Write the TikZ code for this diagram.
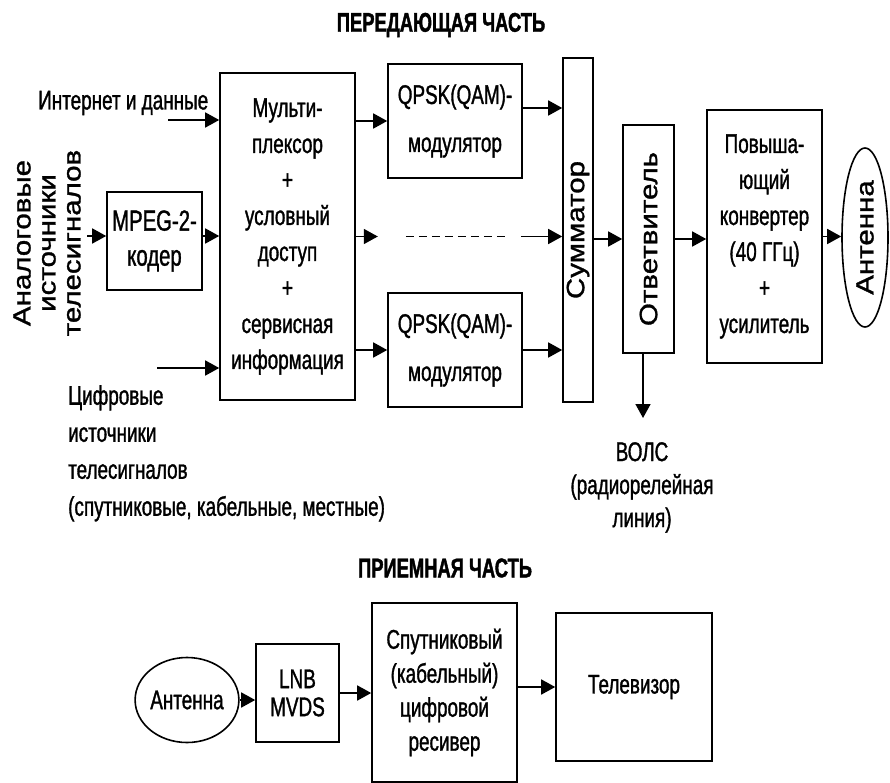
\documentclass[tikz,border=0pt]{standalone}
\usepackage{fontspec}
\setmainfont{Liberation Sans}[FakeStretch=0.70,FakeBold=1.2]
\newfontfamily\rotfont{Liberation Sans}[FakeStretch=1.18,FakeBold=1.2]
\newfontfamily\headfont{Liberation Sans}[FakeStretch=0.68,FakeBold=1.5]
\usepackage{tikz}
\usetikzlibrary{arrows.meta}
\usetikzlibrary{shapes.geometric}
\tikzstyle{every node}=[inner sep=0pt,font=\fontsize{27}{36}\selectfont]
\tikzstyle{block}=[draw=black,line width=1.6pt,align=center]
\tikzstyle{oval}=[draw=black,line width=1.6pt,ellipse]
\tikzstyle{signal}=[line width=1.6pt,-{Triangle[length=14pt,width=15pt]}]
\tikzstyle{head}=[font=\headfont\bfseries\fontsize{27}{30}\selectfont]
\tikzstyle{vert}=[rotate=90,align=center,font=\rotfont\fontsize{25}{25}\selectfont]
\newcommand{\vtext}[1]{\rotatebox{90}{\rotfont\fontsize{25}{25}\selectfont #1}}

\begin{document}
\begin{tikzpicture}[x=1pt,y=-1pt]
  \useasboundingbox (0,0) rectangle (890,783);
  \node[head] (sendtitle) at (441,25) {ПЕРЕДАЮЩАЯ ЧАСТЬ};
  \node[anchor=west] (inet) at (38,103) {Интернет и данные};
  \node[vert] (analog) at (47,243) {Аналоговые\\источники\\телесигналов};
  \node[block,minimum width=95pt,minimum height=98pt,font=\fontsize{29}{35}\selectfont] (mpeg) at (154.5,241) {MPEG-2-\\кодер};
  \node[block,minimum width=135pt,minimum height=327pt] (mux) at (287.5,236.5)
    {Мульти-\\плексор\\+\\условный\\доступ\\+\\сервисная\\информация};
  \node[block,minimum width=134pt,minimum height=114pt,font=\fontsize{27}{48}\selectfont] (qpskA) at (455,121) {QPSK(QAM)-\\модулятор};
  \node[block,minimum width=134pt,minimum height=114pt,font=\fontsize{27}{48}\selectfont] (qpskB) at (455,350) {QPSK(QAM)-\\модулятор};
  \node[block,minimum width=30pt,minimum height=344pt] (summ) at (578,230) {\vtext{Сумматор}};
  \node[block,minimum width=51pt,minimum height=228pt] (branch) at (648.5,239) {\vtext{Ответвитель}};
  \node[block,minimum width=115pt,minimum height=253pt] (conv) at (764.5,236.5)
    {Повыша-\\ющий\\конвертер\\(40 ГГц)\\+\\усилитель};
  \node[oval,minimum width=46pt,minimum height=179pt] (antT) at (865,237.5) {\vtext{Антенна}};
  \node[anchor=north west,align=left,font=\fontsize{27}{37}\selectfont] (digital) at (68,385)
    {Цифровые\\источники\\телесигналов\\(спутниковые, кабельные, местные)};
  \node[anchor=north,align=center,font=\fontsize{27}{33}\selectfont] (vols) at (642,442)
    {ВОЛС\\(радиорелейная\\линия)};
  \node[head] (recvtitle) at (445,568) {ПРИЕМНАЯ ЧАСТЬ};
  \node[oval,minimum width=100pt,minimum height=85pt] (antR) at (187,700) {Антенна};
  \node[block,minimum width=83pt,minimum height=98pt,font=\fontsize{27}{28}\selectfont] (lnb) at (297.5,693) {LNB\\MVDS};
  \node[block,minimum width=145pt,minimum height=179pt,font=\fontsize{27}{34}\selectfont] (recv) at (444.5,692.5)
    {Спутниковый\\(кабельный)\\цифровой\\ресивер};
  \node[block,minimum width=156pt,minimum height=148pt] (tv) at (634,687) {Телевизор};

  \coordinate (inetIn) at (168,120);
  \coordinate (analogIn) at (87,236);
  \coordinate (digitalIn) at (157,368);
  \coordinate (volsTip) at (643,418);
  \draw[signal] (inetIn) -- (inetIn -| mux.west);
  \draw[signal] (analogIn) -- (analogIn -| mpeg.west);
  \draw[signal] (mpeg.east |- analogIn) -- (analogIn -| mux.west);
  \draw[signal] (digitalIn) -- (digitalIn -| mux.west);
  \draw[signal] (mux.east |- qpskA.west) -- (qpskA.west);
  \draw[signal] (mux.east |- qpskB.west) -- (qpskB.west);
  \draw[signal] (mux.east) -- ([xshift=22pt]mux.east);
  \draw[line width=1.2pt,dash pattern=on 8pt off 5pt] ([xshift=50pt]mux.east) -- ([xshift=153pt]mux.east);
  \draw[signal] ([xshift=165pt]mux.east) -- (mux.east -| summ.west);
  \draw[signal] ([yshift=13pt]qpskA.east) -- ([yshift=13pt]qpskA.east -| summ.west);
  \draw[signal] (qpskB.east) -- (qpskB.east -| summ.west);
  \draw[signal] (summ.east |- branch.west) -- (branch.west);
  \draw[signal] (branch.east) -- (branch.east -| conv.west);
  \draw[signal] (conv.east) -- (conv.east -| antT.west);
  \draw[signal] (branch.south -| volsTip) -- (volsTip);
  \draw[signal] (antR.east) -- (antR.east -| lnb.west);
  \draw[signal] (lnb.east) -- (lnb.east -| recv.west);
  \draw[signal] (recv.east |- tv.west) -- (tv.west);
\end{tikzpicture}
\end{document}
